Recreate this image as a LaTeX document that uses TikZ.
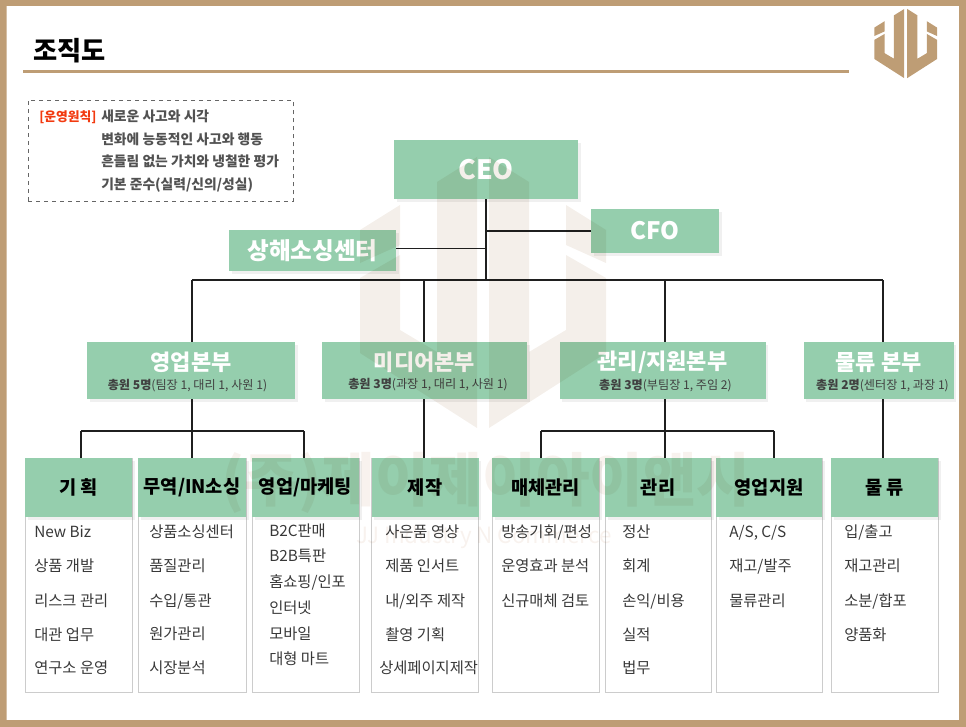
\documentclass[tikz,border=0pt]{standalone}
\usepackage{fontspec}
\setmainfont{Noto Sans CJK KR}
\usetikzlibrary{shadows}

\definecolor{frametan}{HTML}{BE9D75}
\definecolor{boxgreen}{HTML}{95CEAD}
\definecolor{markcol}{HTML}{F4EFEA}
\definecolor{marktxt}{HTML}{F8F2EE}
\definecolor{notered}{HTML}{F23A10}
\definecolor{bodyline}{HTML}{CCCCCC}

\newcommand{\logohalves}[1]{
    \foreach \sgn in {1,-1} {
        \fill[#1,xscale=\sgn] (6,0) -- (46,25) -- (46,195) -- (83,173) -- (83,98) -- (123,121) -- (123,196) -- (6,271) -- cycle;
        \fill[#1,xscale=\sgn] (83,48) -- (123,73) -- (123,106) -- (83,88) -- cycle;
    }
}

\tikzset{
    greenbox/.style={fill=boxgreen, inner sep=0pt, drop shadow={opacity=0.12, shadow xshift=2pt, shadow yshift=-2pt}},
    whitetext/.style={text=white, font=\bfseries\fontsize{#1}{#1}\selectfont},
    divnote/.style={text=black!75, font=\fontsize{9.1}{11}\selectfont},
    colbody/.style={draw=bodyline, line width=0.7pt, inner sep=0pt, minimum height=175.5pt},
    colhead/.style={greenbox, font=\bfseries\fontsize{14}{16}\selectfont, minimum height=44.25pt},
    item/.style={anchor=west, inner sep=0pt, yshift=-1.4pt, text=black!78, text height=9pt, text depth=2.5pt, font=\fontsize{11.5}{13}\selectfont},
    noteline/.style={anchor=west, inner sep=0pt, yshift=-1.2pt, text=black!68, text height=7pt, text depth=2pt, font=\bfseries\fontsize{10.35}{12}\selectfont},
    orgline/.style={draw=black!88, line width=0.85pt}
}

\begin{document}
\begin{tikzpicture}[x=0.75pt,y=-0.75pt]
    \useasboundingbox (0,0) rectangle (966,727);
    \fill[frametan,even odd rule] (0,0) rectangle (966,727) (6.5,6) rectangle (959,720);

    % title
    \node[anchor=west, inner sep=0pt, font=\bfseries\fontsize{19.7}{22}\selectfont] (title) at (33,50.5) {조직도};
    \draw[frametan, line width=2.2pt] (23,71.5) -- (849,71.5);
    \begin{scope}[shift={(905.7,9)},scale=0.255]
        \logohalves{frametan}
    \end{scope}

    % principles
    \node[draw=black!60, dashed, line width=0.6pt, minimum width=198.75pt, minimum height=75.75pt, inner sep=0pt] (principles) at (160.5,151) {};
    \node[noteline, text=notered, font=\bfseries\fontsize{9.6}{12}\selectfont] (principlestag) at (39,117) {[운영원칙]};
    \foreach \i/\y/\t in {1/117/새로운 사고와 시각, 2/140/변화에 능동적인 사고와 행동, 3/162/흔들림 없는 가치와 냉철한 평가, 4/185/{기본 준수(실력/신의/성실)}}
        \node[noteline] (principle\i) at (101,\y) {\t};

    % top boxes
    \node[greenbox, minimum width=138pt, minimum height=44.25pt, whitetext=20] (ceo) at (486,169.5) {CEO};
    \node[greenbox, minimum width=96pt, minimum height=33pt, whitetext=18] (cfo) at (655,231) {CFO};
    \node[greenbox, minimum width=125.25pt, minimum height=30.75pt, whitetext=17.7] (hub) at (312.5,250.5) {상해소싱센터};

    % divisions
    \foreach \nm/\x/\w/\t in {sales/191/208/영업본부, media/424.5/205/미디어본부, admin/662.5/206/{관리/지원본부}, logis/878.5/150/물류 본부} {
        \node[greenbox, minimum width=\w*0.75pt, minimum height=42.75pt] (\nm) at (\x,370.5) {};
        \node[whitetext=16.5] (\nm title) at (\x,362.5) {\t};
    }
    \node[divnote] (salesnote) at (187.5,385.5) {\textbf{총원 5명}(팀장 1, 대리 1, 사원 1)};
    \node[divnote] (medianote) at (428,384.5) {\textbf{총원 3명}(과장 1, 대리 1, 사원 1)};
    \node[divnote] (adminnote) at (665.5,385.5) {\textbf{총원 3명}(부팀장 1, 주임 2)};
    \node[divnote] (logisnote) at (882.5,385.5) {\textbf{총원 2명}(센터장 1, 과장 1)};

    % columns
    \foreach \nm/\x/\w/\t in {plan/78.5/107/기 획, trade/192/108/{무역/IN소싱}, mkt/305.5/107/{영업/마케팅}, make/425/107/제작, channel/545.5/107/매체관리, account/658/106/관리, support/769/106/영업지원, stock/884.5/107/물 류} {
        \node[colbody, minimum width=\w*0.75pt] (\nm body) at (\x,575) {};
        \node[colhead, minimum width=\w*0.75pt] (\nm) at (\x,487.5) {\t};
    }

    \foreach \i/\y/\t in {1/531/New Biz, 2/565/상품 개발, 3/600/리스크 관리, 4/634/대관 업무, 5/667/연구소 운영}
        \node[item] (plan\i) at (34,\y) {\t};
    \foreach \i/\y/\t in {1/531/상품소싱센터, 2/565/품질관리, 3/600/{수입/통관}, 4/633/원가관리, 5/667/시장분석}
        \node[item] (trade\i) at (149,\y) {\t};
    \foreach \i/\y/\t in {1/530/B2C판매, 2/555/B2B특판, 3/581/{홈쇼핑/인포}, 4/607/인터넷, 5/633/모바일, 6/658/대형 마트}
        \node[item] (mkt\i) at (269,\y) {\t};
    \foreach \i/\y/\t in {1/531/사은품 영상, 2/565/제품 인서트, 3/600/{내/외주 제작}, 4/634/촬영 기획}
        \node[item] (make\i) at (385,\y) {\t};
    \node[item] (make5) at (379,667) {상세페이지제작};
    \foreach \i/\y/\t in {1/531/{방송기회/편성}, 2/565/운영효과 분석, 3/600/신규매체 검토}
        \node[item] (channel\i) at (501,\y) {\t};
    \foreach \i/\y/\t in {1/531/정산, 2/565/회계, 3/600/{손익/비용}, 4/634/실적, 5/667/법무}
        \node[item] (account\i) at (622,\y) {\t};
    \foreach \i/\y/\t in {1/531/{A/S, C/S}, 2/565/{재고/발주}, 3/600/물류관리}
        \node[item] (support\i) at (729,\y) {\t};
    \foreach \i/\y/\t in {1/531/{입/출고}, 2/565/재고관리, 3/600/{소분/합포}, 4/634/양품화}
        \node[item] (stock\i) at (844,\y) {\t};

    % connectors
    \coordinate (bustrunk) at (486,280);
    \coordinate (bussales) at (192,280);
    \coordinate (busmedia) at (424,280);
    \coordinate (busadmin) at (665,280);
    \coordinate (buslogis) at (883,280);
    \coordinate (salesL) at (81,431);
    \coordinate (salesR) at (304,431);
    \coordinate (adminL) at (541,431);
    \coordinate (adminR) at (774,431);

    \draw[orgline] (ceo.south) -- (bustrunk);
    \draw[orgline] (cfo.west) -- (cfo.west -| bustrunk);
    \draw[orgline] ([yshift=1.8pt]hub.east) -- ([yshift=1.8pt]hub.east -| bustrunk);
    \draw[orgline] (bussales) -- (buslogis);
    \draw[orgline] (bussales) -- (bussales |- sales.north);
    \draw[orgline] (busmedia) -- (busmedia |- media.north);
    \draw[orgline] (busadmin) -- (busadmin |- admin.north);
    \draw[orgline] (buslogis) -- (buslogis |- logis.north);
    \draw[orgline] (bussales |- sales.south) -- (bussales |- trade.north);
    \draw[orgline] (busmedia |- media.south) -- (busmedia |- make.north);
    \draw[orgline] (busadmin |- admin.south) -- (busadmin |- account.north);
    \draw[orgline] (buslogis |- logis.south) -- (buslogis |- stock.north);
    \draw[orgline] (salesL) -- (salesR);
    \draw[orgline] (salesL) -- (salesL |- plan.north);
    \draw[orgline] (salesR) -- (salesR |- mkt.north);
    \draw[orgline] (adminL) -- (adminR);
    \draw[orgline] (adminL) -- (adminL |- channel.north);
    \draw[orgline] (adminR) -- (adminR |- support.north);

    % watermark over everything
    \begin{scope}[blend mode=multiply]
        \begin{scope}[shift={(483,157)}]
            \logohalves{markcol}
        \end{scope}
        \node[text=marktxt, inner sep=0pt, font=\bfseries\fontsize{43.7}{46}\selectfont] (marktext) at (486,483) {(주)제이제이아이앤시};
        \node[text=marktxt, inner sep=0pt, font=\fontsize{16.8}{19}\selectfont] (marksub) at (484,537) {JJ Industry N Commerce};
    \end{scope}
\end{tikzpicture}
\end{document}
